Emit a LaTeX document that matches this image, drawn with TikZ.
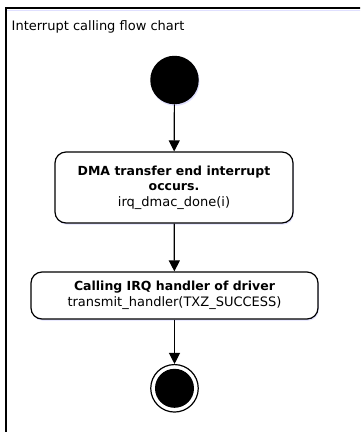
\documentclass[tikz,border=0pt]{standalone}
\usepackage{fontspec}
\setmainfont{DejaVu Sans}
\usetikzlibrary{arrows.meta,shadows}

\tikzset{
    >={Triangle[width=11pt,length=11pt]},
    actbox/.style={draw, line width=1.2pt, rounded corners=11pt, fill=white, align=center,
        inner sep=0pt, font=\fontsize{13}{15.5}\selectfont,
        drop shadow={shadow xshift=0.8pt, shadow yshift=-1.6pt, fill=blue!25, opacity=0.5}},
    initial/.style={circle, fill=black, minimum size=48.5pt, inner sep=0pt,
        drop shadow={shadow xshift=0.8pt, shadow yshift=-1.6pt, fill=blue!25, opacity=0.5}},
    final/.style={circle, draw, line width=1.2pt, fill=white, minimum size=47.5pt, inner sep=0pt},
    flow/.style={->, line width=1.2pt}
}

\begin{document}
\begin{tikzpicture}[x=1pt, y=-1pt]
    \useasboundingbox (0,0) rectangle (360,432);
    \clip (0,0) rectangle (360,432);

    % Draw the frame and its title
    \draw[blue!12, line width=1pt] (6.5,10.5) -- (370,10.5);
    \draw[line width=1.6pt] (5.8,450) -- (5.8,8) -- (370,8);
    \node[anchor=base west, inner sep=0pt, font=\fontsize{13}{15.5}\selectfont] (title) at (11.5,30.5) {Interrupt calling flow chart};

    % Draw the start, the two actions and the end
    \node[initial] (start) at (174.5,80) {};
    \node[actbox, minimum width=238pt, minimum height=71pt] (dma) at (174,187.5)
        {{\fontsize{12.5}{15.5}\selectfont\bfseries DMA transfer end interrupt}\\
         {\fontsize{12.5}{15.5}\selectfont\bfseries occurs.}\\
         irq\_dmac\_done(i)};
    \node[actbox, minimum width=287pt, minimum height=47pt] (irq) at (174.5,295.5)
        {{\fontsize{12.5}{15.5}\selectfont\bfseries Calling IRQ handler of driver}\\
         transmit\_handler(TXZ\_SUCCESS)};
    \node[final] (stop) at (174.5,388.3) {};
    \fill (stop.center) circle (19.5pt);

    % Draw the arrows
    \draw[flow] (start) -- (dma);
    \draw[flow] (dma) -- (irq);
    \draw[flow] (irq) -- (stop);
\end{tikzpicture}
\end{document}
